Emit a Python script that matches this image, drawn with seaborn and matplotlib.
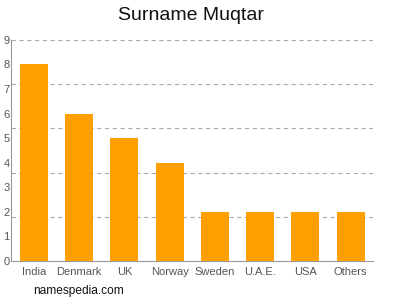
import matplotlib
matplotlib.use("Agg")
import matplotlib.pyplot as plt
import seaborn as sns
import pandas as pd

categories = ["India", "Denmark", "UK", "Norway", "Sweden", "U.A.E.", "USA", "Others"]
values = [8, 6, 5, 4, 2, 2, 2, 2]
ytick_labels = ["0", "1", "2", "3", "4", "5", "6", "7", "8", "9"]

sns.set_theme(style="white")
plt.rcParams['font.family'] = ['Liberation Sans', 'DejaVu Sans']

fig = plt.figure(figsize=(4, 3), dpi=100)
ax = fig.add_axes([0.028, 0.13, 0.905, 0.737])

df = pd.DataFrame({"country": categories, "count": values})
sns.barplot(data=df, x="country", y="count", color="#ffa000", width=0.62,
            saturation=1, linewidth=0, ax=ax, zorder=3)

for y in [1.8, 3.6, 5.4, 7.2, 9.0]:
    ax.axhline(y, color="#aaaaaa", linestyle=(0, (4, 3)), linewidth=0.8, zorder=1)

ax.set_ylim(0, 9)
ax.set_xlim(-0.5, 7.5)
ax.set_yticks(range(10))
ax.set_yticklabels(ytick_labels)
ax.set_xlabel("")
ax.set_ylabel("")
ax.tick_params(axis="both", labelsize=8, colors="#555555", length=3, width=0.6, pad=1)
ax.tick_params(axis="y", length=0, pad=1)
for s in ["top", "right"]:
    ax.spines[s].set_visible(False)
for s in ["left", "bottom"]:
    ax.spines[s].set_color("#999999")
    ax.spines[s].set_linewidth(0.8)

fig.text(0.478, 0.95, "Surname Muqtar", ha="center", va="center", fontsize=14, color="#111111")
fig.text(0.083, 0.03, "namespedia.com", ha="left", va="center", fontsize=8.6, color="#111111")

fig.savefig("out.png", dpi=100)
